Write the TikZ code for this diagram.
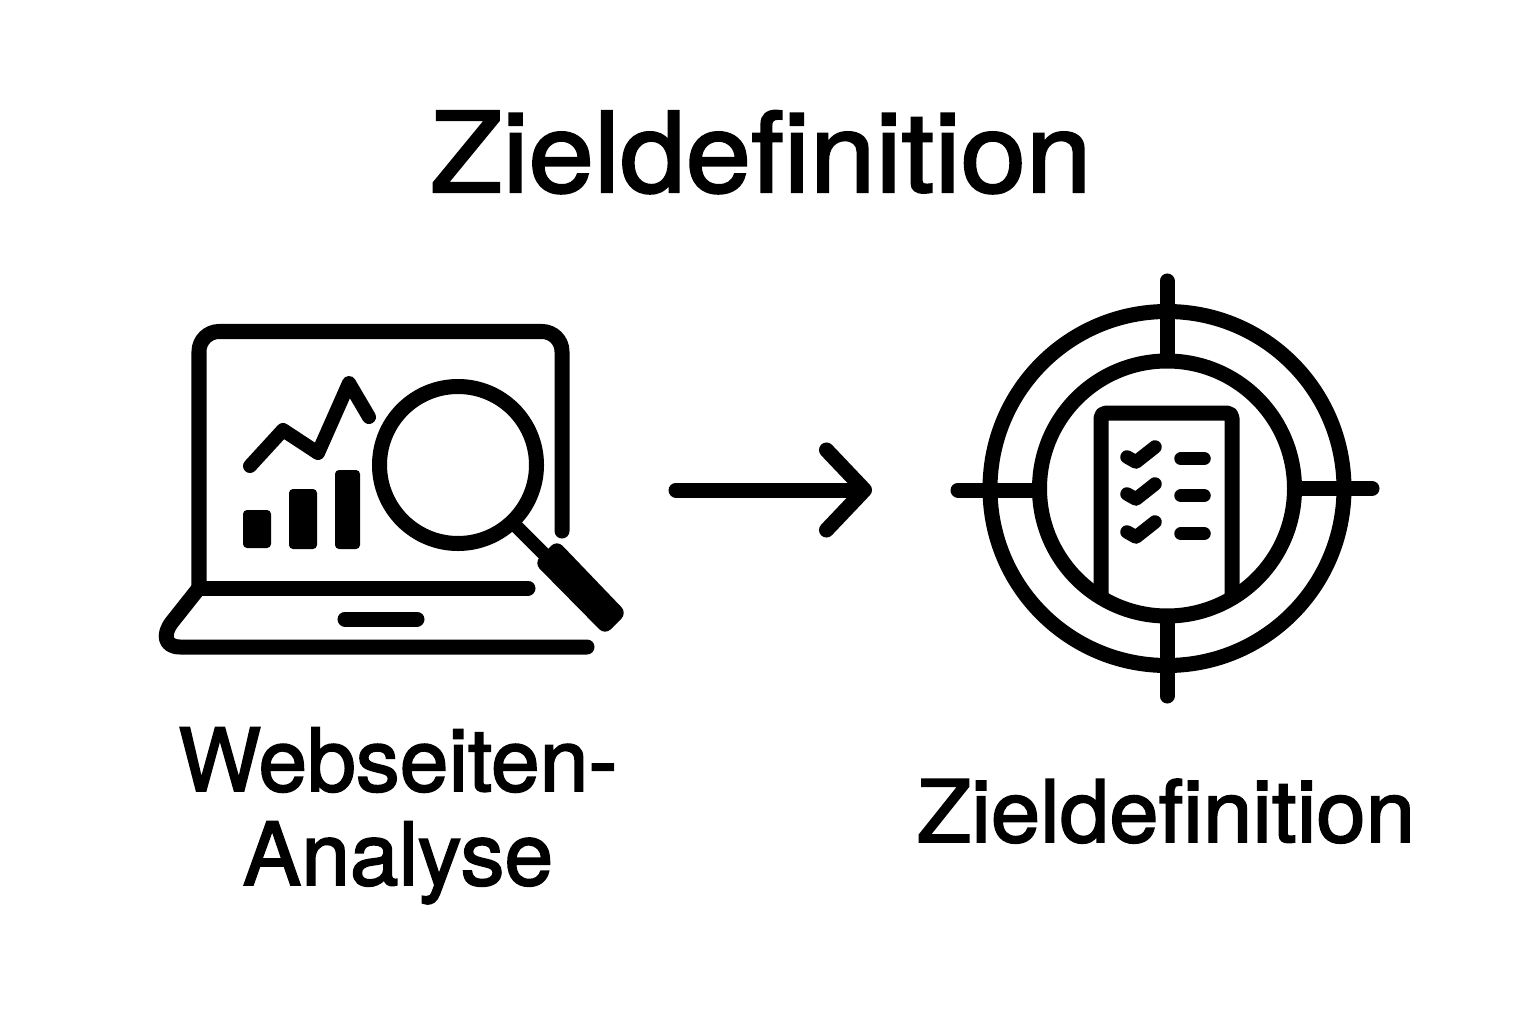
\documentclass[tikz,border=0pt]{standalone}
\usepackage{fontspec}
\setmainfont{TeX Gyre Heros}
\newfontfamily\titlefont{TeX Gyre Heros}[FakeBold=2, FakeStretch=1.06]
\newfontfamily\labelfont{TeX Gyre Heros}[FakeBold=2, FakeStretch=1.005]
\newfontfamily\goalfont{TeX Gyre Heros}[FakeBold=2, FakeStretch=1.03]
\usetikzlibrary{arrows.meta}

\tikzset{
	iconline/.style={draw=black, line width=1.5mm, line cap=round, line join=round},
	thinline/.style={iconline, line width=1.35mm},
	iconbar/.style={fill=black, rounded corners=0.4mm},
}

\begin{document}
\begin{tikzpicture}[x=0.01cm, y=-0.01cm]
	\useasboundingbox (0,0) rectangle (1536,1024);

	\begin{scope}[every node/.style={anchor=base, inner sep=0pt, text=black, align=center}]
	\node[font=\titlefont\fontsize{31.6}{32}\selectfont] (title) at (761,192) {Zieldefinition};
	\node[font=\labelfont\fontsize{24.8}{26.7}\selectfont] (analysis) at (398,885) {Webseiten-\\Analyse};
	\node[font=\goalfont\fontsize{24.5}{25}\selectfont] (goal) at (1166,842) {Zieldefinition};
	\end{scope}

	% laptop
	\draw[iconline, rounded corners=2mm] (199,588) -- (199,331.5) -- (562,331.5) -- (562,531);
	\draw[iconline] (199,588) -- (528,588);
	\draw[iconline] (199,588) -- (172,622) .. controls (162,635) and (165,647) .. (180,647) -- (587,647);
	\draw[iconline] (345,619) -- (417,619);

	% chart
	\draw[iconline, line width=1.4mm] (250,466) -- (283,430) -- (318,453) -- (349,383) -- (369,417);
	\fill[iconbar] (243,510) rectangle (271,548);
	\fill[iconbar] (289,489) rectangle (317,549);
	\fill[iconbar] (335,470) rectangle (360,549);

	% magnifier
	\draw[iconline] (458,465) circle (78.5);
	\draw[thinline, line cap=butt] (515,525) -- (547,557);
	\fill[rounded corners=0.8mm] (557,540) -- (534,563) -- (605,635) -- (627,613) -- cycle;

	% arrow
	\coordinate (arrowstart) at (676,490);
	\coordinate (arrowend) at (872,490);
	\draw[iconline, -{Straight Barb[length=3.8mm, width=8mm, round]}] (arrowstart) -- (arrowend);

	% target
	\coordinate (targetcentre) at (1167,488.5);
	\draw[iconline] (targetcentre) circle (177);
	\draw[iconline] (targetcentre) circle (127.5);
	\draw[iconline] (1167,281) -- (1167,360);
	\draw[iconline] (1167,618) -- (1167,696);
	\draw[iconline] (958,490) -- (1038,490);
	\draw[iconline] (1296,488.5) -- (1372,488.5);

	% checklist
	\draw[iconline, line cap=butt, rounded corners=0.5mm] (1101,597) -- (1101,413) -- (1232,413) -- (1232,597);
	\foreach \rowy in {0,37,75}{
		\draw[thinline] (1127,457+\rowy) -- (1136,462+\rowy) -- (1155,447+\rowy);
		\draw[thinline] (1181,458.7+\rowy) -- (1204,458.7+\rowy);
	}
\end{tikzpicture}
\end{document}
